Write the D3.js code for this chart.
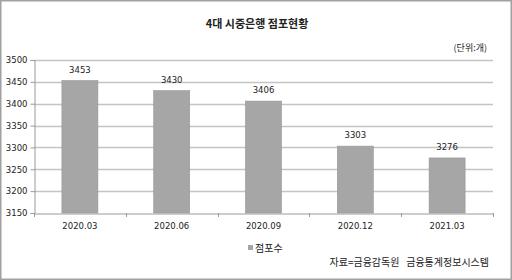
<!DOCTYPE html>
<html>
<head>
<meta charset="utf-8">
<script src="https://cdn.jsdelivr.net/npm/d3@7"></script>
<style>
  body { margin: 0; background: #fff; }
  text { font-family: "Noto Sans CJK KR", "DejaVu Sans", sans-serif; fill: #222; }
</style>
</head>
<body>
<script>
const categories = ["2020.03", "2020.06", "2020.09", "2020.12", "2021.03"];
const branchCounts = [3453, 3430, 3406, 3303, 3276];
const yTicks = [3150, 3200, 3250, 3300, 3350, 3400, 3450, 3500];

const main = () => {
  const width = 512, height = 280;
  const left = 34, right = 493, top = 60, bottom = 213;

  const svg = d3.select("body").append("svg")
    .attr("width", width)
    .attr("height", height);

  svg.append("rect")
    .attr("x", 0.75).attr("y", 0.75)
    .attr("width", width - 1.5).attr("height", height - 1.5)
    .attr("fill", "#fff")
    .attr("stroke", "#a0a0a0")
    .attr("stroke-width", 1.5);

  const x = d3.scaleBand()
    .domain(categories)
    .range([left, right]);

  const y = d3.scaleLinear()
    .domain([3150, 3500])
    .range([bottom, top]);

  // gridlines
  svg.append("g")
    .selectAll("line")
    .data(yTicks.slice(1))
    .enter().append("line")
    .attr("x1", left).attr("x2", right)
    .attr("y1", d => Math.round(y(d)) + 0.5)
    .attr("y2", d => Math.round(y(d)) + 0.5)
    .attr("stroke", "#c4c4c4")
    .attr("stroke-width", 1.5);

  // y axis
  const yAxis = svg.append("g")
    .attr("transform", `translate(${left + 0.5},0)`)
    .call(d3.axisLeft(y).tickValues(yTicks).tickFormat(d3.format("d")).tickSize(4).tickPadding(3));
  yAxis.select(".domain").attr("stroke", "#9a9a9a");
  yAxis.selectAll(".tick line").attr("stroke", "#9a9a9a");
  yAxis.selectAll(".tick text")
    .attr("font-size", 8.5)
    .style("font-family", "'DejaVu Sans', sans-serif")
    .attr("fill", "#222");

  // bars
  const bw = 36;
  svg.append("g")
    .selectAll("rect")
    .data(branchCounts)
    .enter().append("rect")
    .attr("x", (d, i) => x(categories[i]) + x.bandwidth() / 2 - bw / 2)
    .attr("y", d => y(d))
    .attr("width", bw)
    .attr("height", d => y(3150) - y(d))
    .attr("fill", "#a6a6a6")
    .attr("stroke", "#979797")
    .attr("stroke-width", 0.6);

  // value labels
  svg.append("g")
    .selectAll("text")
    .data(branchCounts)
    .enter().append("text")
    .attr("x", (d, i) => x(categories[i]) + x.bandwidth() / 2)
    .attr("y", d => y(d) - 8)
    .attr("text-anchor", "middle")
    .attr("font-size", 8.5)
    .style("font-family", "'DejaVu Sans', sans-serif")
    .text(d => d);

  // x axis
  const xAxis = svg.append("g")
    .attr("transform", `translate(0,${bottom + 0.5})`)
    .call(d3.axisBottom(x).tickSize(0).tickPadding(9));
  xAxis.select(".domain").attr("stroke", "#9a9a9a");
  xAxis.selectAll(".tick text")
    .attr("font-size", 8.5)
    .style("font-family", "'DejaVu Sans', sans-serif")
    .attr("fill", "#222");

  // category separators
  svg.append("g")
    .selectAll("line")
    .data(categories.concat(["end"]))
    .enter().append("line")
    .attr("x1", (d, i) => Math.round(left + i * x.step()) + 0.5)
    .attr("x2", (d, i) => Math.round(left + i * x.step()) + 0.5)
    .attr("y1", bottom)
    .attr("y2", bottom + 4)
    .attr("stroke", "#9a9a9a");

  // title
  svg.append("text")
    .attr("x", 257).attr("y", 28)
    .attr("text-anchor", "middle")
    .attr("font-size", 11)
    .attr("font-weight", "bold")
    .text("4대 시중은행 점포현황");

  svg.append("text")
    .attr("x", 487).attr("y", 51)
    .attr("text-anchor", "end")
    .attr("font-size", 9)
    .text("(단위:개)");

  // legend
  svg.append("rect")
    .attr("x", 248).attr("y", 245)
    .attr("width", 5).attr("height", 5)
    .attr("fill", "#a6a6a6");
  svg.append("text")
    .attr("x", 255).attr("y", 252)
    .attr("font-size", 10)
    .text("점포수");

  svg.append("text")
    .attr("x", 489).attr("y", 266)
    .attr("text-anchor", "end")
    .attr("font-size", 10)
    .style("white-space", "pre")
    .text("자료=금융감독원   금융통계정보시스템");
};

window.onload = main;
</script>
</body>
</html>
